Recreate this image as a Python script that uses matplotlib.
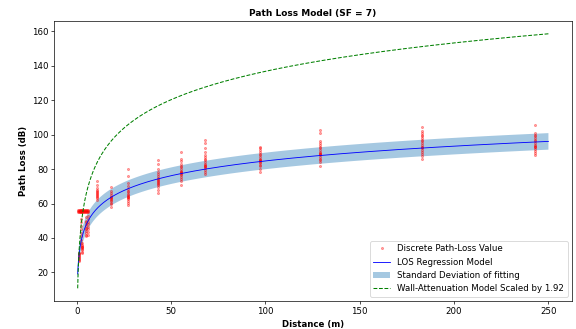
import matplotlib
matplotlib.use('Agg')
import matplotlib.pyplot as plt
import numpy as np

# measured path loss (dB) per distance (m)
meas = {
    1:   [26.5, 27.5, 28.0, 28.5, 29.0, 29.5, 30.0, 30.5, 31.0, 31.5],
    2:   [37.0, 39.0, 41.0, 43.0, 45.0, 47.0, 49.0, 51.0],
    3:   [31.0, 32.0, 33.0, 33.5, 34.0, 34.5, 35.0, 35.5, 36.0, 37.0],
    5:   [41.0, 42.0, 43.0, 44.0, 45.0, 46.0, 47.0, 48.0, 49.0, 50.0, 52.0],
    6:   [42.0, 43.5, 45.0, 46.5, 48.0, 49.5, 51.0, 53.0],
    11:  [62.0, 63.0, 64.0, 64.5, 65.0, 65.5, 66.0, 66.5, 67.0, 68.0, 69.0, 71.0, 73.0],
    18:  [58.0, 59.5, 60.5, 61.5, 62.0, 62.5, 63.0, 63.5, 64.0, 65.0, 66.0, 67.5, 69.5],
    27:  [59.0, 60.5, 61.5, 62.5, 63.0, 63.5, 64.0, 64.5, 65.0, 65.5, 66.5, 67.5, 68.5, 70.0, 72.0, 76.0, 80.0],
    43:  [66.0, 68.0, 69.5, 70.5, 71.5, 72.0, 72.5, 73.0, 73.5, 74.0, 75.0, 76.0, 77.0, 78.5, 80.0, 83.0, 85.0],
    55:  [71.0, 73.0, 74.5, 75.5, 76.5, 77.0, 77.5, 78.0, 78.5, 79.0, 80.0, 81.0, 82.0, 83.0, 84.5, 86.0, 90.0],
    68:  [77.0, 78.5, 79.5, 80.5, 81.0, 81.5, 82.0, 82.5, 83.0, 84.0, 85.0, 86.0, 87.0, 88.0, 90.0, 92.0, 95.0, 97.0],
    97:  [78.0, 80.0, 81.5, 82.5, 83.5, 84.0, 84.5, 85.0, 85.5, 86.0, 87.0, 88.0, 89.0, 90.0, 91.0, 92.0, 93.0],
    129: [82.0, 84.0, 85.0, 86.0, 87.0, 88.0, 88.5, 89.0, 89.5, 90.0, 91.0, 92.0, 93.0, 94.0, 95.0, 96.0, 101.0, 102.5],
    183: [86.0, 87.5, 89.0, 90.0, 91.0, 92.0, 92.5, 93.0, 94.0, 95.0, 96.0, 97.0, 98.0, 99.0, 100.0, 101.0, 102.0, 104.5],
    243: [88.0, 89.5, 90.5, 91.5, 92.5, 93.0, 93.5, 94.0, 95.0, 96.0, 97.0, 98.0, 99.0, 100.0, 101.0, 105.5],
}
# the flat row of samples near 55 dB at short range
flat_d = [0.5, 1.0, 1.5, 2.0, 2.5, 3.0, 3.5, 4.0, 4.5, 5.0, 5.5, 6.0]
flat_pl = [55.0, 55.5, 56.0]

# log-distance model fit
pl0 = 27.7        # dB at 1 m
n_los = 2.85      # path loss exponent
sigma = 4.8
wall_pl0 = 14.2
wall_scale = 1.92

d_pts, pl_pts = [], []
for d, vals in meas.items():
    d_pts += [d] * len(vals)
    pl_pts += vals
for d in flat_d:
    for v in flat_pl:
        d_pts.append(d)
        pl_pts.append(v)

d = np.linspace(0.5, 250, 1000)
los = pl0 + 10 * n_los * np.log10(d)
wall = wall_scale * (wall_pl0 + 10 * n_los * np.log10(d))

fig = plt.figure(figsize=(576 / 62, 329 / 62), dpi=62)
ax = fig.add_axes([0.094, 0.085, 0.899, 0.851])

ax.plot(d_pts, pl_pts, 'r.', alpha=0.35, markersize=5, label='Discrete Path-Loss Value')
ax.plot(d, los, 'b-', linewidth=1.0, label='LOS Regression Model')
ax.fill_between(d, los - sigma, los + sigma, alpha=0.4, label='Standard Deviation of fitting')
ax.plot(d, wall, 'g--', linewidth=1.2, label='Wall-Attenuation Model Scaled by 1.92')

ax.set_xticks([0, 50, 100, 150, 200, 250])
ax.set_yticks([20, 40, 60, 80, 100, 120, 140, 160])
ax.set_xlabel('Distance (m)', fontweight='bold')
ax.set_ylabel('Path Loss (dB)', fontweight='bold')
ax.set_title('Path Loss Model (SF = 7)', fontweight='bold', fontsize=10.5)
ax.legend(loc='lower right')

plt.savefig('out.png', dpi=62)
